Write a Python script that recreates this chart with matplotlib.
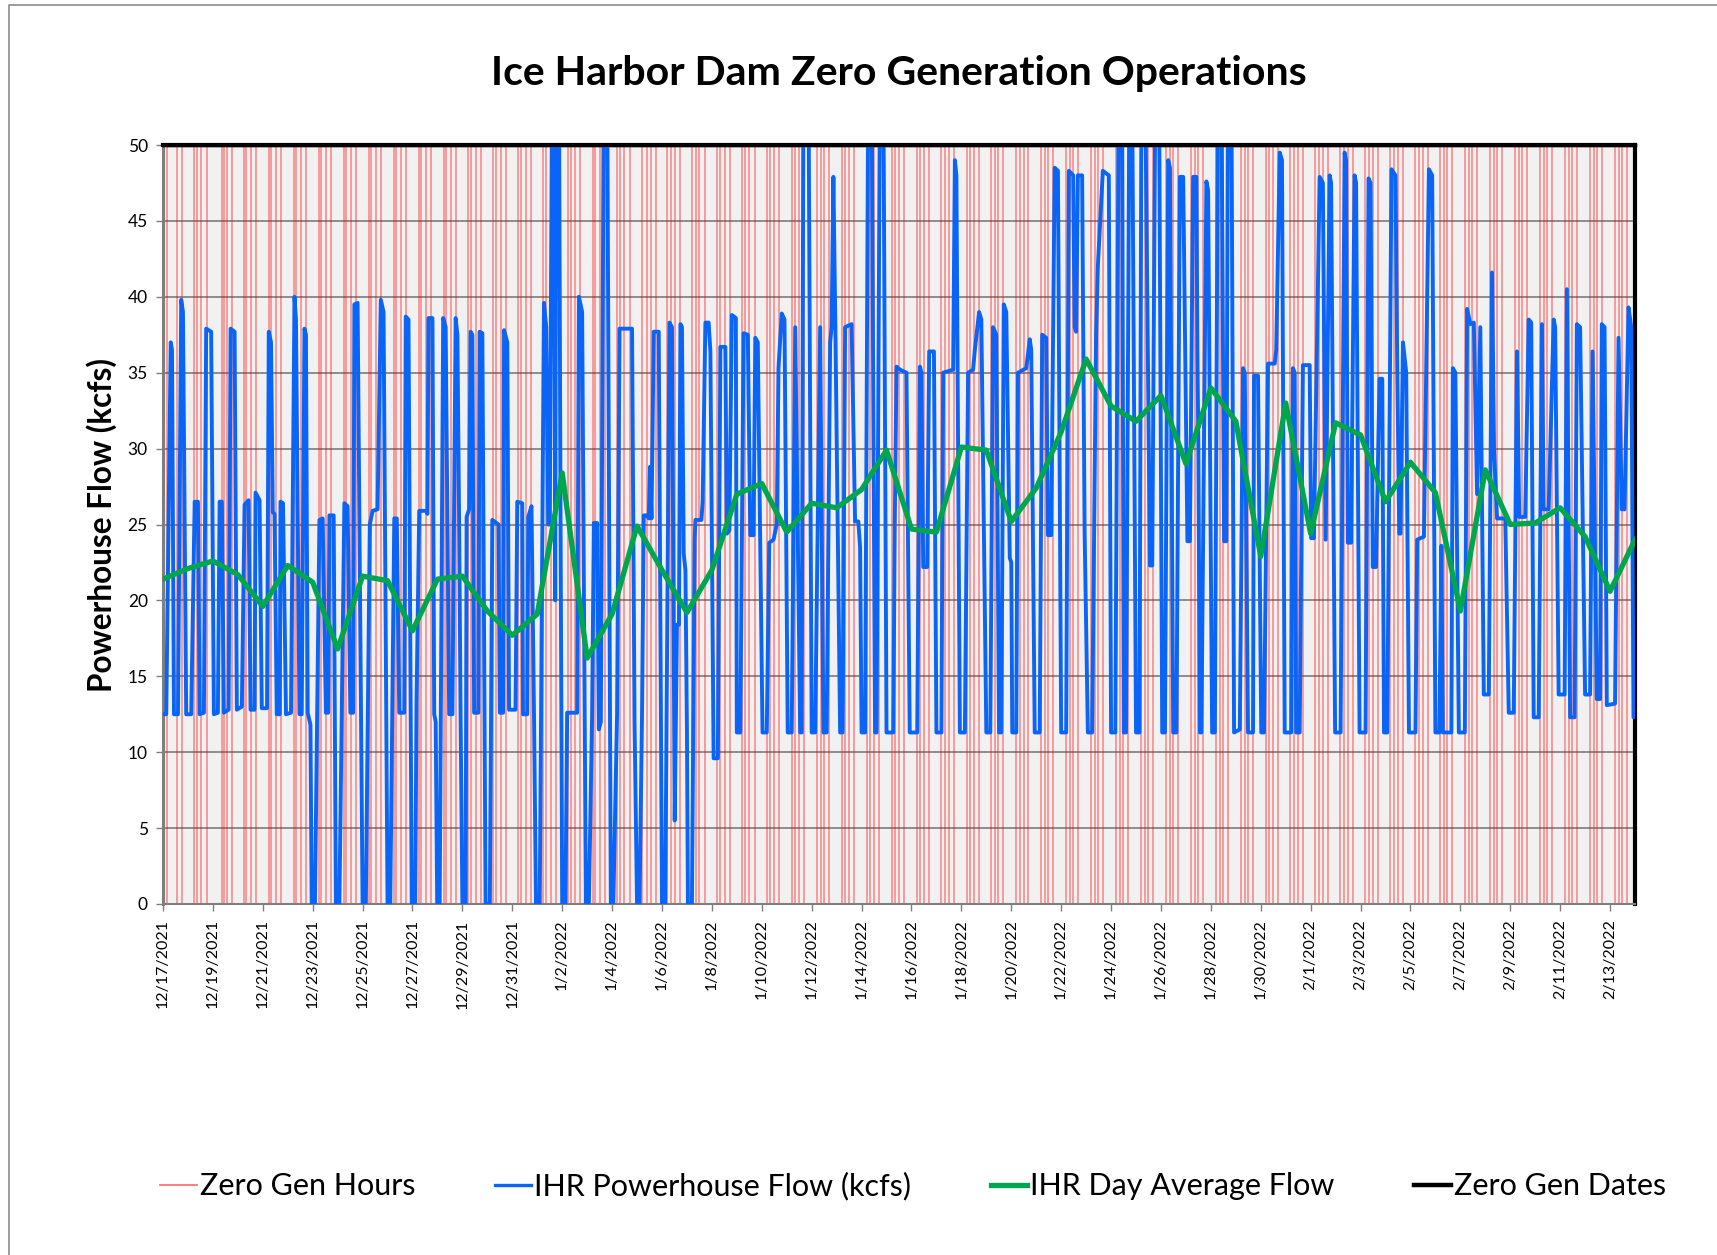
import matplotlib
matplotlib.use("Agg")
import matplotlib.pyplot as plt
import pandas as pd
from matplotlib.lines import Line2D

START = "2021-12-17"

# hourly powerhouse flow, read as breakpoints (days since 12/17/2021, kcfs)
flow_t = [0.00,0.13,0.31,0.36,0.44,0.60,0.73,0.80,0.93,1.13,1.27,1.40,1.47,1.64,1.73,1.93,2.04,2.20,2.27,2.36,2.44,2.63,2.71,2.87,2.96,3.16,3.27,3.43,3.51,3.67,3.71,3.87,3.96,4.17,4.24,4.33,4.40,4.47,4.56,4.68,4.71,4.81,4.93,5.13,5.27,5.33,5.47,5.56,5.67,5.73,5.80,5.91,5.96,6.09,6.27,6.40,6.53,6.62,6.67,6.84,6.93,7.07,7.27,7.40,7.51,7.62,7.67,7.80,8.00,8.13,8.29,8.40,8.60,8.73,8.84,9.00,9.11,9.27,9.37,9.47,9.67,9.73,9.84,
          9.97,10.11,10.16,10.27,10.55,10.60,10.64,10.80,10.87,10.93,10.99,11.09,11.23,11.33,11.47,11.60,11.73,11.80,11.87,11.93,12.00,12.13,12.17,12.27,12.33,12.40,12.47,12.64,12.69,12.80,12.93,13.10,13.20,13.45,13.50,13.63,13.67,13.80,13.87,14.13,14.20,14.40,14.43,14.60,14.64,14.77,14.87,14.95,15.10,15.27,15.36,15.44,15.50,15.60,15.67,15.72,15.76,15.87,15.93,16.00,16.13,16.20,16.60,16.67,16.80,16.90,16.95,17.07,17.20,17.27,17.40,17.47,17.55,17.67,17.80,17.95,18.05,18.20,18.30,18.80,18.90,19.00,19.10,19.20,19.27,19.40,
          19.47,19.52,19.58,19.67,19.87,20.00,20.13,20.30,20.40,20.51,20.60,20.68,20.74,20.80,20.87,20.94,21.00,21.04,21.20,21.31,21.34,21.58,21.63,21.74,21.87,21.94,22.07,22.24,22.34,22.54,22.60,22.70,22.80,22.96,23.00,23.14,23.27,23.44,23.54,23.67,23.74,23.84,24.03,24.20,24.30,24.47,24.60,24.67,24.80,24.91,25.04,25.20,25.34,25.54,25.60,25.67,25.87,26.00,26.14,26.34,26.47,26.60,26.74,26.80,26.87,26.95,27.14,27.24,27.34,27.60,27.74,27.87,27.94,28.00,28.14,28.27,28.40,28.54,28.60,28.74,28.87,29.00,29.20,
          29.27,29.33,29.40,29.54,29.80,29.93,30.23,30.34,30.40,30.47,30.63,30.71,30.90,31.00,31.20,31.27,31.67,31.74,31.80,31.94,32.14,32.27,32.47,32.54,32.71,32.80,33.00,33.16,33.27,33.40,33.51,33.60,33.70,33.80,33.94,34.00,34.04,34.20,34.27,34.60,34.74,34.80,34.94,35.14,35.24,35.40,35.47,35.60,35.74,35.87,36.00,36.20,36.31,36.48,36.54,36.60,36.67,36.84,36.94,37.07,37.24,37.40,37.47,37.67,37.91,38.00,38.17,38.31,38.44,38.51,38.60,38.74,38.84,39.00,39.14,
          39.22,39.36,39.56,39.65,39.78,39.92,40.05,40.16,40.29,40.36,40.49,40.62,40.76,40.89,41.06,41.16,41.29,41.42,41.46,41.50,41.56,41.62,41.82,41.89,42.05,42.16,42.29,42.42,42.53,42.62,42.69,42.82,42.93,43.16,43.29,43.36,43.49,43.69,43.73,43.89,44.02,44.13,44.29,44.56,44.62,44.76,44.85,44.96,45.22,45.29,45.36,45.42,45.56,45.69,45.96,46.02,46.13,46.36,46.49,46.60,46.76,46.82,46.98,47.20,47.36,47.42,47.49,47.62,47.76,47.82,47.96,48.20,48.32,48.40,48.49,48.62,48.76,48.87,48.94,49.07,
          49.24,49.40,49.47,49.55,49.60,49.70,49.83,49.94,50.20,50.27,50.54,50.74,50.87,51.00,51.16,51.24,51.30,51.64,51.70,51.80,51.94,52.18,52.27,52.40,52.54,52.67,52.80,52.94,53.14,53.27,53.35,53.47,53.80,53.94,54.14,54.27,54.36,54.60,54.74,54.84,54.94,55.14,55.27,55.34,55.54,55.74,55.80,55.94,56.18,56.27,56.40,56.58,56.67,56.80,57.00,57.20,57.30,57.47,57.60,57.67,57.78,57.87,58.20,58.34,58.47,58.58,58.74,58.85,58.94]
flow_v = [12.5,12.5,37.0,36.5,12.5,12.5,39.8,39.0,12.5,12.5,26.5,26.5,12.5,12.6,37.9,37.7,12.5,12.6,26.5,26.5,12.6,12.8,37.9,37.7,12.8,13.0,26.3,26.6,12.8,12.8,27.1,26.6,12.9,12.9,37.7,37.0,25.8,25.7,12.5,12.5,26.5,26.4,12.5,12.6,40.0,38.5,12.5,12.5,37.9,37.5,12.6,11.8,0.0,0.0,25.3,25.4,12.6,12.6,25.6,25.6,0.0,0.0,26.4,26.2,12.6,12.6,39.5,39.6,0.0,0.0,25.0,25.9,26.0,39.8,39.0,0.0,0.0,25.4,25.4,12.6,12.6,38.7,38.5,
          0.0,0.0,13.1,25.9,25.9,25.7,38.6,38.6,12.5,12.0,0.0,0.0,38.6,38.0,12.5,12.5,38.6,37.5,25.0,12.0,0.0,0.0,25.5,26.0,37.7,37.5,12.6,12.6,37.7,37.6,0.0,0.0,25.3,25.0,12.6,12.6,37.8,37.0,12.8,12.8,26.5,26.4,12.5,12.5,25.5,26.2,12.5,0.0,0.0,39.6,38.0,25.0,25.0,55.0,55.0,20.0,55.0,55.0,27.0,0.0,0.0,12.6,12.6,40.0,39.0,12.5,0.0,0.0,12.5,25.1,25.1,11.5,12.0,55.0,55.0,0.0,0.0,12.5,37.9,37.9,12.0,0.0,0.0,12.5,25.6,25.6,
          25.4,28.8,25.4,37.7,37.7,0.0,0.0,38.3,38.0,5.5,18.4,18.4,38.2,38.0,23.1,22.0,11.5,0.0,0.0,24.1,25.3,25.3,26.5,38.3,38.3,36.4,9.6,9.6,36.7,36.7,24.4,24.6,38.8,38.6,11.3,11.3,37.6,37.5,24.3,24.3,37.3,37.0,11.3,11.3,23.8,24.0,25.0,35.3,38.9,38.5,11.3,11.3,38.0,11.3,11.3,55.0,55.0,11.3,11.3,38.0,11.3,11.3,37.0,38.0,47.9,38.0,11.3,11.3,38.0,38.2,25.2,25.2,23.5,11.3,11.3,55.0,55.0,11.3,11.3,55.0,55.0,11.3,11.3,
          11.3,25.0,35.4,35.2,35.0,11.3,11.3,35.4,35.0,22.2,22.2,36.4,36.4,11.3,11.3,35.0,35.2,49.0,48.0,11.3,11.3,35.0,35.2,36.5,39.0,38.5,11.3,11.3,38.0,37.5,11.3,11.3,39.5,39.0,22.8,22.5,11.3,11.3,35.0,35.3,37.2,36.5,11.3,11.3,37.5,37.3,24.3,24.3,48.5,48.3,11.3,11.3,48.3,48.0,38.0,37.7,48.0,48.0,24.5,11.3,11.3,37.5,42.0,48.3,48.0,11.3,11.3,55.0,55.0,11.3,11.3,55.0,55.0,11.3,11.3,
          55.0,55.0,22.3,22.3,55.0,55.0,11.3,11.3,49.0,48.5,11.3,11.3,47.9,47.9,23.9,23.9,47.9,47.9,36.4,30.0,11.3,11.3,47.6,47.0,11.3,11.3,55.0,55.0,23.9,23.9,55.0,55.0,11.3,11.5,35.3,35.0,11.3,11.3,34.8,34.8,11.3,11.3,35.6,35.6,36.5,49.5,49.0,11.3,11.3,35.3,35.0,11.3,11.3,35.5,35.5,24.1,24.1,47.9,47.5,24.0,48.0,47.5,11.3,11.3,49.5,49.0,23.8,23.8,48.0,47.5,11.3,11.3,47.8,47.5,22.2,22.2,34.6,34.6,11.3,11.3,
          48.4,48.0,35.4,24.4,24.4,37.0,35.0,11.3,11.3,24.0,24.2,48.4,48.0,11.3,11.3,23.6,11.3,11.3,35.3,35.0,11.3,11.3,39.2,38.2,38.3,27.0,38.0,13.8,13.8,41.6,30.0,25.4,25.4,12.6,12.6,36.4,25.5,25.5,38.5,38.3,12.3,12.3,38.2,26.0,26.0,38.5,38.0,13.8,13.8,40.5,12.3,12.3,38.2,38.0,13.8,13.8,36.4,13.5,13.5,38.2,38.0,13.1,13.2,37.3,26.0,26.0,39.3,38.0,12.3]

# daily average flow (kcfs), one value per date starting 12/17/2021
avg_flow = [21.4,22.1,22.6,21.7,19.6,22.3,21.2,16.8,21.6,21.3,18.0,21.4,21.6,19.3,17.7,19.1,28.4,16.2,19.1,24.9,
            22.0,19.2,22.0,27.0,27.7,24.5,26.4,26.1,27.3,29.9,24.7,24.5,30.1,29.9,25.2,27.4,31.1,35.9,32.8,31.8,
            33.5,29.0,34.0,31.8,22.9,33.0,24.4,31.7,30.9,26.5,29.1,27.1,19.3,28.6,25.0,25.1,26.1,24.2,20.6,24.0]

# zero generation windows per day (hour of day on / off, two windows a day)
zg_on1 = [1.0,6.0,8.3,5.8,6.1,5.8,5.8,5.8,6.1,5.8,5.8,6.0,5.5,5.8,5.5,5.8,6.0,5.5,5.0,5.0,5.2,5.0,5.4,5.0,5.2,5.0,5.0,5.2,5.0,5.0,
          5.0,4.8,5.0,4.8,4.8,5.0,4.8,4.8,4.8,4.6,4.8,4.6,4.6,4.6,4.6,4.6,4.6,4.6,4.6,4.6,4.6,4.6,4.6,4.6,4.6,4.6,4.6,4.6,4.6]
zg_off1 = [3.5,8.3,10.6,8.3,8.3,8.3,8.3,8.3,8.3,8.3,8.3,8.3,8.6,8.3,8.6,8.3,8.3,8.0,7.6,9.4,8.3,8.3,8.0,8.3,8.3,8.3,8.5,8.3,8.3,8.3,
           8.3,8.3,8.4,8.3,8.3,8.3,8.4,8.3,8.3,8.3,8.4,8.4,8.4,8.4,7.8,8.4,8.4,8.3,8.4,8.4,8.3,8.4,8.4,8.3,8.4,8.4,8.3,8.4,8.4]
zg_on2 = [13.1,12.2,13.1,13.1,12.5,13.1,13.1,13.1,13.1,13.1,13.1,13.1,13.0,13.1,13.0,12.8,12.5,12.3,11.3,13.1,12.5,12.0,12.3,12.0,12.2,12.0,11.8,12.0,12.0,11.8,
          11.8,11.7,11.8,11.6,11.8,11.6,11.6,11.7,11.6,11.6,11.6,11.6,11.6,11.6,11.7,11.6,11.6,11.6,11.6,11.6,11.6,11.6,11.6,11.6,11.6,11.6,11.6,11.6,11.6]
zg_off2 = [17.9,17.9,17.9,17.9,17.9,17.9,17.9,17.9,17.9,17.9,17.9,17.9,17.8,17.9,17.8,17.6,17.5,17.5,17.5,17.9,17.3,17.2,17.0,17.0,16.9,16.8,16.8,16.7,16.6,16.6,
           16.5,16.5,16.5,16.4,16.5,16.4,16.4,16.4,16.4,16.4,16.4,16.4,16.4,16.4,16.5,16.4,16.4,16.4,16.4,16.4,16.4,16.4,16.4,16.4,16.4,16.4,16.4,16.4,16.4]

tick_days = list(range(0, 59, 2))
tick_labels = [f"{d.month}/{d.day}/{d.year}" for d in pd.date_range(START, periods=len(tick_days), freq="2D")]

# build the zero-gen hour pulse series
zg_t, zg_v = [0.0], [0.0]
for d in range(len(zg_on1)):
    for a, b in ((zg_on1[d], zg_off1[d]), (zg_on2[d], zg_off2[d])):
        zg_t += [d + a / 24, d + a / 24, d + b / 24, d + b / 24]
        zg_v += [0, 60, 60, 0]
zg_t.append(59.0)
zg_v.append(0)

W, H = 1717, 1255
fig = plt.figure(figsize=(W / 100, H / 100), dpi=100)
fig.patch.set_facecolor("white")
ax = fig.add_axes([163 / W, (H - 904) / H, (1635 - 163) / W, (904 - 145) / H])
ax.set_facecolor("#F1F1F1")

FONT = "Lato"

ax.set_xlim(0, 59)
ax.set_ylim(0, 50)
ax.set_yticks(range(0, 51, 5))
ax.grid(axis="y", color="#858585", lw=1.3, zorder=1)
ax.set_axisbelow(True)

ax.plot(zg_t, zg_v, color=(1, 0, 0), alpha=0.45, lw=1.1, zorder=2)
ax.plot(flow_t, flow_v, color="#0A64F5", lw=2.8, zorder=3,
        solid_joinstyle="round", solid_capstyle="round")
ax.plot(range(len(avg_flow)), avg_flow, color="#00A54F", lw=3.8, zorder=4)
ax.plot([0, 59], [50, 50], color="black", lw=3.0, zorder=5, clip_on=False)

ax.set_xticks(tick_days)
ax.set_xticklabels(tick_labels, rotation=90, fontsize=11.5, family=FONT)
for lab in ax.get_yticklabels():
    lab.set_family(FONT)
    lab.set_fontsize(12.5)
ax.tick_params(axis="x", length=5, width=1, color="#7F7F7F", pad=6)
ax.tick_params(axis="y", length=5, width=1, color="#7F7F7F", pad=6)

ax.spines["left"].set_color("#7F7F7F")
ax.spines["left"].set_linewidth(2.2)
ax.spines["bottom"].set_color("#7F7F7F")
ax.spines["bottom"].set_linewidth(1.5)
ax.spines["top"].set_color("black")
ax.spines["top"].set_linewidth(2.5)
ax.spines["right"].set_color("black")
ax.spines["right"].set_linewidth(3.0)

fig.text(899 / W, 1 - 73 / H, "Ice Harbor Dam Zero Generation Operations",
         ha="center", va="center", fontsize=29.5, fontweight="bold", family=FONT)
fig.text(102 / W, 1 - 525 / H, "Powerhouse Flow (kcfs)", rotation=90,
         ha="center", va="center", fontsize=22.7, fontweight="bold", family=FONT)

handles = [Line2D([], [], color=(1, 0.45, 0.45), lw=1.3),
           Line2D([], [], color="#0A64F5", lw=2.4),
           Line2D([], [], color="#00A54F", lw=3.8),
           Line2D([], [], color="black", lw=3.2)]
labels = ["Zero Gen Hours", "IHR Powerhouse Flow (kcfs)", "IHR Day Average Flow", "Zero Gen Dates"]
fig.legend(handles, labels, loc="center", bbox_to_anchor=(913 / W, 1 - 1186 / H), ncol=4,
           frameon=False, prop={"family": FONT, "size": 22}, handlelength=1.2,
           handletextpad=0.1, columnspacing=2.6)

# outer chart frame (left and top edges visible)
fig.add_artist(Line2D([9 / W, 9 / W, 1.0], [0.0, 1 - 5 / H, 1 - 5 / H],
                      transform=fig.transFigure, color="#8C8C8C", lw=1.2))

fig.savefig("out.png", dpi=100)
